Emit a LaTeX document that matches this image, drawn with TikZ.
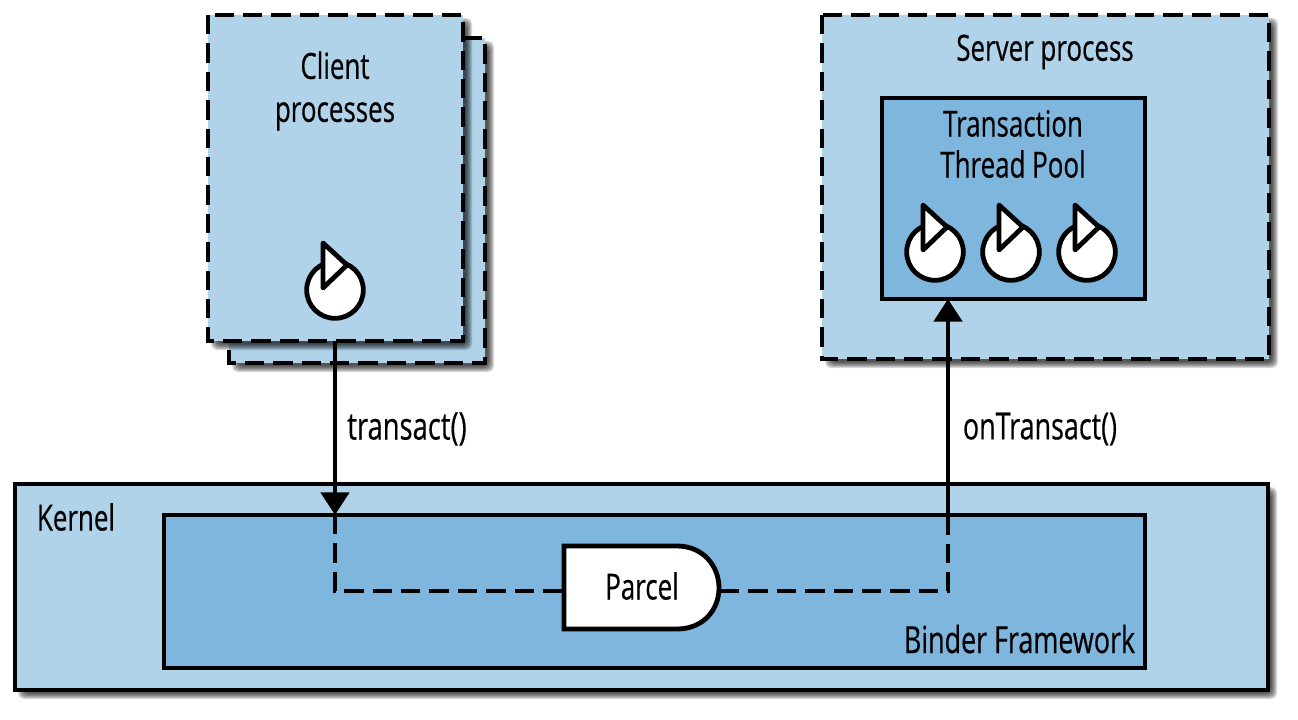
\documentclass[tikz,border=0pt]{standalone}
\usepackage{fontspec}
\setmainfont[FakeStretch=0.72,FakeBold=0.4]{Open Sans}
\usetikzlibrary{arrows.meta}
\definecolor{lightb}{HTML}{B0D3EA}
\definecolor{midb}{HTML}{7FB6DD}
\tikzset{
  x=0.75pt,y=-0.75pt,
  ln/.style={line width=3.6pt,draw=black},
  dsh/.style={ln,dash pattern=on 14.5pt off 6.8pt},
  box/.style={ln,rectangle,inner sep=0pt,outer sep=0pt,anchor=north west},
  txt/.style={font=\fontsize{27}{30.75}\selectfont,align=center,inner sep=0pt,text=black},
  txtb/.style={txt,font=\fontsize{28}{30.75}\selectfont},
  arr/.style={ln,-{Triangle[length=17pt,width=21pt]}},
}
\newcommand{\softshadow}[4]{% x1 y1 x2 y2
  \foreach \i in {0,...,6}{
    \fill[black,opacity=0.14,rounded corners=4pt]
      (#1+6+\i-3,#2+6+\i-3) rectangle (#3+6-\i+3,#4+6-\i+3);
  }
}
\newcommand{\thread}[3]{% name, cx, cy
  \node[ln,circle,fill=white,minimum size=42.5pt,inner sep=0pt,outer sep=0pt] (#1) at (#2,#3) {};
  \draw[ln,fill=white,line join=round] (#2-12,#3-47) -- (#2+12,#3-25) -- (#2-12,#3-2) -- cycle;
}
\begin{document}
\begin{tikzpicture}
\useasboundingbox (0,0) rectangle (1298,720);
\fill[white] (0,0) rectangle (1298,720);
% shadows
\softshadow{229}{38}{485}{363}
\node[box,fill=lightb,minimum width=192pt,minimum height=243.75pt,draw=none] (clientback) at (229,38) {};
\draw[dsh] (229,38) rectangle (485,363);
\softshadow{208}{15}{463}{341}
\node[box,fill=lightb,minimum width=191.25pt,minimum height=244.5pt,draw=none] (client) at (208,15) {};
\draw[dsh] (208,15) rectangle (463,341);
\softshadow{822}{15}{1269}{359}
\node[box,fill=lightb,minimum width=335.25pt,minimum height=258pt,draw=none] (server) at (822,15) {};
\draw[dsh] (822,15) rectangle (1269,359);
\node[box,fill=midb,minimum width=197.25pt,minimum height=150.75pt] (pool) at (882,98) {};
\softshadow{15}{484}{1268}{690}
\node[box,fill=lightb,minimum width=939.75pt,minimum height=154.5pt] (kernel) at (15,484) {};
\node[box,fill=midb,minimum width=735.75pt,minimum height=114.75pt] (binder) at (164,515) {};
% threads
\thread{tc}{335}{290}
\thread{ta}{935}{252}
\thread{tb}{1011}{252}
\thread{td}{1087}{252}
% coordinates
\coordinate (enter) at (335,515);
\coordinate (lcorner) at (335,591);
\coordinate (rcorner) at (948,591);
\coordinate (exit) at (948,518);
\coordinate (pooldown) at (948,299);
\coordinate (parcelW) at (564,591);
\coordinate (parcelE) at (720,591);
\coordinate (clientS) at (335,341);
% connectors
\draw[dsh] (enter) -- (lcorner) -- (parcelW);
\draw[dsh] (parcelE) -- (rcorner) -- (exit);
\draw[arr] (clientS) -- (enter);
\draw[arr] (exit) -- (pooldown);
% parcel
\draw[ln,fill=white] (564,546) -- (677,546) .. controls (703,546) and (719,566) .. (719,588) .. controls (719,610) and (703,629) .. (677,629) -- (564,629) -- cycle;
% labels
\node[txt] (parcel) at (642,586) {Parcel};
\node[txt] (lclient) at (335,91) {Client\\[1.5pt]processes};
\node[txt] (lserver) at (1045,52) {Server process};
\node[txt] (lpool) at (1013,144) {Transaction\\Thread Pool};
\node[txt,font=\fontsize{28.5}{30.75}\selectfont] (ltransact) at (407,429) {transact()};
\node[txtb] (lon) at (1040,429) {onTransact()};
\node[txt] (lkernel) at (76,517) {Kernel};
\node[txtb] (lbinder) at (1019.5,639) {Binder Framework};
\end{tikzpicture}
\end{document}
